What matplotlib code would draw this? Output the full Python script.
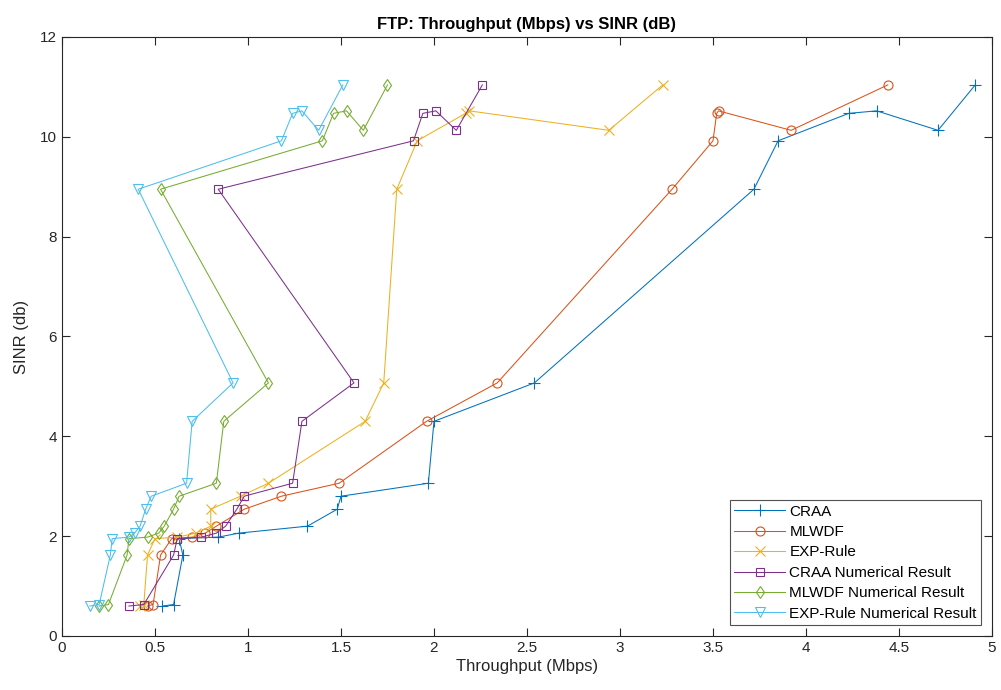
import matplotlib
matplotlib.use("Agg")
import matplotlib.pyplot as plt

plt.rcParams['font.family'] = ['Liberation Sans', 'DejaVu Sans']

sinr = [0.6, 0.63, 1.62, 1.95, 1.98, 2.06, 2.2, 2.54, 2.8, 3.06, 4.3, 5.07,
        8.95, 9.92, 10.47, 10.52, 10.13, 11.04]

craa = [0.54, 0.60, 0.65, 0.63, 0.84, 0.95, 1.32, 1.48, 1.50, 1.97, 2.00, 2.54,
        3.72, 3.85, 4.23, 4.38, 4.71, 4.91]
mlwdf = [0.46, 0.49, 0.53, 0.59, 0.70, 0.77, 0.83, 0.98, 1.18, 1.49, 1.96, 2.34,
         3.28, 3.50, 3.52, 3.53, 3.92, 4.44]
exp_rule = [0.42, 0.44, 0.46, 0.50, 0.62, 0.72, 0.80, 0.80, 0.96, 1.11, 1.63, 1.73,
            1.80, 1.91, 2.17, 2.19, 2.94, 3.23]
craa_num = [0.36, 0.44, 0.60, 0.62, 0.75, 0.83, 0.88, 0.94, 0.98, 1.24, 1.29, 1.57,
            0.84, 1.89, 1.94, 2.01, 2.12, 2.26]
mlwdf_num = [0.20, 0.25, 0.35, 0.36, 0.46, 0.52, 0.55, 0.60, 0.63, 0.83, 0.87, 1.11,
             0.53, 1.40, 1.46, 1.53, 1.62, 1.75]
exp_num = [0.15, 0.20, 0.26, 0.27, 0.36, 0.39, 0.42, 0.45, 0.48, 0.67, 0.70, 0.92,
           0.41, 1.18, 1.24, 1.29, 1.38, 1.51]

labels = ['CRAA', 'MLWDF', 'EXP-Rule', 'CRAA Numerical Result',
          'MLWDF Numerical Result', 'EXP-Rule Numerical Result']
series = [craa, mlwdf, exp_rule, craa_num, mlwdf_num, exp_num]
colors = [(0, 0.447, 0.741), (0.85, 0.325, 0.098), (0.929, 0.694, 0.125),
          (0.494, 0.184, 0.556), (0.466, 0.674, 0.188), (0.301, 0.745, 0.933)]
markers = ['+', 'o', 'x', 's', 'd', 'v']
msizes = [8, 6.5, 6.5, 5.5, 6, 6.5]

fig = plt.figure(figsize=(10.01, 6.90), dpi=100)
ax = fig.add_axes([0.0619, 0.0783, 0.9291, 0.8681])

for xs, lab, c, m, ms in zip(series, labels, colors, markers, msizes):
    ax.plot(xs, sinr, color=c, marker=m, markersize=ms, markerfacecolor='none',
            markeredgecolor=c, markeredgewidth=0.8, linewidth=0.75, label=lab)

ax.set_xlim(0, 5)
ax.set_ylim(0, 12)
ax.set_xticks([0, 0.5, 1, 1.5, 2, 2.5, 3, 3.5, 4, 4.5, 5])
ax.set_xticklabels(['0', '0.5', '1', '1.5', '2', '2.5', '3', '3.5', '4', '4.5', '5'])
ax.set_yticks(range(0, 13, 2))
ax.tick_params(direction='in', top=True, right=True, labelsize=11, length=6,
               width=0.8, colors='#262626', labelcolor='#262626')
for s in ax.spines.values():
    s.set_color('#262626')
    s.set_linewidth(0.8)

ax.set_xlabel('Throughput (Mbps)', fontsize=12, color='#262626', labelpad=3)
ax.set_ylabel('SINR (db)', fontsize=12, color='#262626', labelpad=8)
ax.set_title('FTP: Throughput (Mbps) vs SINR (dB)', fontsize=12, fontweight='bold',
             color='black', pad=6)

leg = ax.legend(loc='lower right', fontsize=11, frameon=True, fancybox=False,
                edgecolor='#262626', handlelength=3.3, borderpad=0.3,
                labelspacing=0.42, handletextpad=0.3, borderaxespad=0.7)
leg.get_frame().set_linewidth(0.8)

fig.savefig('out.png', dpi=100)
